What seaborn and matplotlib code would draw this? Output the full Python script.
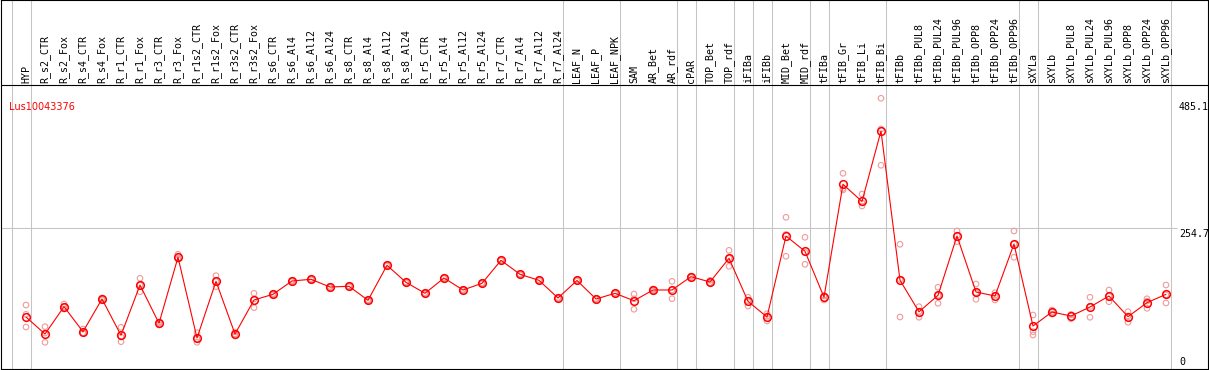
import numpy as np
import pandas as pd
import matplotlib
matplotlib.use("Agg")
import matplotlib.pyplot as plt
import seaborn as sns


# ==========================================
# DATA
# ==========================================

gene_id = "Lus10043376"

samples = [
    "HYP", "R_s2_CTR", "R_s2_Fox", "R_s4_CTR", "R_s4_Fox", "R_r1_CTR", "R_r1_Fox",
    "R_r3_CTR", "R_r3_Fox", "R_r1s2_CTR", "R_r1s2_Fox", "R_r3s2_CTR", "R_r3s2_Fox",
    "R_s6_CTR", "R_s6_Al4", "R_s6_Al12", "R_s6_Al24", "R_s8_CTR", "R_s8_Al4",
    "R_s8_Al12", "R_s8_Al24", "R_r5_CTR", "R_r5_Al4", "R_r5_Al12", "R_r5_Al24",
    "R_r7_CTR", "R_r7_Al4", "R_r7_Al12", "R_r7_Al24", "LEAF_N", "LEAF_P", "LEAF_NPK",
    "SAM", "AR_Bet", "AR_rdf", "cPAR", "TOP_Bet", "TOP_rdf", "iFIBa", "iFIBb",
    "MID_Bet", "MID_rdf", "tFIBa", "tFIB_Gr", "tFIB_Li", "tFIB_Bi", "tFIBb",
    "tFIBb_PUL8", "tFIBb_PUL24", "tFIBb_PUL96", "tFIBb_OPP8", "tFIBb_OPP24",
    "tFIBb_OPP96", "sXYLa", "sXYLb", "sXYLb_PUL8", "sXYLb_PUL24", "sXYLb_PUL96",
    "sXYLb_OPP8", "sXYLb_OPP24", "sXYLb_OPP96",
]

means = [
    94.1, 63.3, 112.8, 67.5, 126.7, 61.0, 152.0, 82.7, 202.2, 56.1, 158.7, 63.3, 124.9,
    135.2, 159.3, 162.4, 148.4, 149.7, 124.3, 187.7, 156.9, 137.0, 164.7, 143.0, 155.1,
    196.7, 171.4, 160.5, 128.5, 160.2, 126.7, 137.0,
    123.6, 143.0, 143.0, 167.1, 157.5, 200.4, 122.5, 94.1,
    240.7, 213.0, 130.0, 334.3, 303.2, 430.8, 160.7,
    103.5, 133.4, 240.7, 139.4, 132.1, 226.2,
    77.8, 103.2, 95.9, 112.2, 132.1, 94.7, 120.0, 135.2,
]

rep_a = [
    115.8, 76.6, 117.6, 72.4, 128.5, 75.5, 164.2, 85.1, 207.6, 65.7, 168.9, 67.0, 137.0,
    136.5, 160.5, 163.4, 149.5, 150.6, 125.4, 188.9, 157.8, 138.1, 165.6, 144.1, 156.0,
    197.8, 172.3, 161.6, 129.4, 161.1, 127.6, 138.0,
    135.7, 144.8, 158.7, 168.3, 160.5, 214.8, 129.8, 100.1,
    274.6, 238.4, 133.0, 354.2, 316.7, 490.0, 225.7,
    112.8, 147.9, 249.8, 153.8, 138.1, 249.8,
    97.7, 106.8, 98.3, 129.8, 143.0, 103.7, 127.2, 152.0,
]

rep_b = [
    99.0, 48.3, 112.2, 65.2, 126.7, 49.4, 139.9, 83.3, 198.6, 48.3, 149.0, 59.7, 111.0,
    134.0, 158.2, 161.5, 147.3, 148.9, 123.1, 186.6, 155.9, 136.0, 163.7, 142.0, 154.1,
    195.7, 170.4, 159.5, 127.5, 159.2, 125.8, 136.1,
    108.1, 141.2, 127.2, 165.6, 155.7, 185.9, 114.0, 86.9,
    204.0, 189.5, 124.9, 324.0, 295.0, 434.4, 94.1,
    93.6, 118.9, 230.4, 126.2, 124.9, 202.2,
    67.5, 99.5, 91.0, 93.6, 121.8, 84.5, 109.9, 119.5,
]

rep_c = [
    76.0, 65.2, 108.6, 65.2, 124.9, 57.9, 152.0, 79.6, 200.9, 54.3, 158.4, 63.3, 126.7,
    135.1, 159.2, 162.3, 148.4, 149.6, 124.4, 187.6, 157.0, 136.9, 164.8, 142.9, 155.2,
    196.6, 171.5, 160.4, 128.6, 160.3, 126.7, 136.9,
    127.0, 143.0, 143.1, 167.4, 156.3, 200.5, 123.7, 95.3,
    243.5, 211.1, 132.1, 326.7, 300.5, 368.7, 162.3,
    104.1, 133.4, 241.9, 138.2, 133.3, 226.6,
    61.5, 103.3, 98.4, 113.2, 131.5, 95.9, 122.9, 134.1,
]

# a grey separator is drawn after each of these samples
group_ends = [
    "HYP", "R_r7_Al24", "LEAF_NPK", "AR_rdf", "cPAR", "TOP_rdf", "iFIBa", "iFIBb",
    "MID_rdf", "tFIBa", "tFIB_Bi", "tFIBb_OPP96", "sXYLa", "sXYLb_OPP96",
]

ytick_values = [0, 254.7, 485.1]
ytick_labels = ["0", "254.7", "485.1"]


# ==========================================
# FRAMES
# ==========================================

xpos = np.arange(len(samples))

df_mean = pd.DataFrame({"x": xpos, "mean": means})

df_rep = pd.DataFrame({"x": xpos, "a": rep_a, "b": rep_b, "c": rep_c})
df_rep = df_rep.melt(id_vars="x", value_name="value")


# ==========================================
# PLOT
# ==========================================

sns.set_theme(style="white")
plt.rcParams["font.family"] = ["DejaVu Sans"]

fig = plt.figure(figsize=(12.09, 3.70), dpi=100)
ax = fig.add_axes([0.6 / 1209, 0.8 / 370, 1207 / 1209, 369 / 370])

x_min, x_max = -1.337, 62.19
y_min, y_max = -0.36, 667.5
header_y = 514.0

ax.set_xlim(x_min, x_max)
ax.set_ylim(y_min, y_max)

# separators
ax.axvline(-0.75, color="#c4c4c4", lw=0.75, zorder=1)
for name in group_ends:
    ax.axvline(samples.index(name) + 0.25, color="#c4c4c4", lw=0.75, zorder=1)

ax.hlines(254.7, x_min, 60.58, color="#c4c4c4", lw=0.75, zorder=1)
ax.axhline(header_y, color="black", lw=0.8, zorder=2)

# replicates
sns.scatterplot(
    data=df_rep,
    x="x",
    y="value",
    s=16,
    marker="o",
    facecolors="none",
    edgecolor="#f19a9a",
    linewidth=0.8,
    zorder=3,
    ax=ax
)

# means
sns.lineplot(
    data=df_mean,
    x="x",
    y="mean",
    color="red",
    lw=0.8,
    marker="o",
    markersize=5.5,
    markerfacecolor="none",
    markeredgecolor="red",
    markeredgewidth=1.1,
    zorder=4,
    ax=ax
)

# column labels
for i, name in enumerate(samples):
    ax.text(i, header_y + 3.5, name, rotation=90, ha="center", va="bottom",
            fontsize=7.2, family="DejaVu Sans Mono", color="black")

ax.text(-0.88, 484, gene_id, ha="left", va="top", fontsize=7, color="red")

# value labels on the right
label_x = 60.68
for val, lab in zip(ytick_values, ytick_labels):
    if val == 0:
        ax.text(label_x, 3.0, lab, ha="left", va="bottom", fontsize=7.2,
                family="DejaVu Sans Mono", color="black")
    else:
        ax.text(label_x, val - 1, lab, ha="left", va="top", fontsize=7.2,
                family="DejaVu Sans Mono", color="black")

ax.set_xticks([])
ax.set_yticks([])
ax.set_xlabel("")
ax.set_ylabel("")
for sp in ax.spines.values():
    sp.set_visible(True)
    sp.set_color("black")
    sp.set_linewidth(0.8)

fig.savefig("out.png", dpi=100)
